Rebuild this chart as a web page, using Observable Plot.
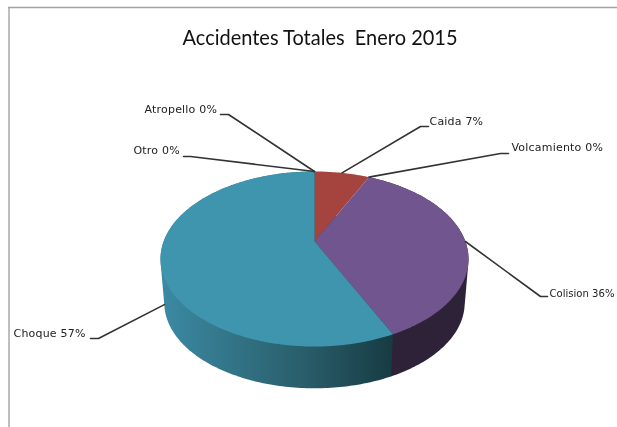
<!DOCTYPE html>
<html>
<head>
<meta charset="utf-8">
<script src="https://cdn.jsdelivr.net/npm/d3@7"></script>
<script src="https://cdn.jsdelivr.net/npm/@observablehq/plot@0.6"></script>
<style>
html,body{margin:0;padding:0;background:#fff;overflow:hidden}
svg{display:block;filter:blur(0.5px)}
</style>
</head>
<body>
<div id="chart"></div>
<script>
// Data
const categories = ["Caida", "Volcamiento", "Colision", "Choque", "Otro", "Atropello"];
const percents = [7, 0, 36, 57, 0, 0];
const chartTitle = "Accidentes Totales  Enero 2015";

// Layout of the tilted pie and of its labels (pixels of the plot frame)
const W = 617, H = 427;
const apex = {x: 314, y: 241}, k = 150.9, persp = -0.2, squash = 35.8;
const center = {x: 314, y: 258.5}, depth = 44, shrink = 0.975;
const labelLayout = {
  Caida:       {tx: 429, ty: 121, ex: 420, ey: 126, hx: 428},
  Volcamiento: {tx: 511, ty: 147, ex: 500, ey: 153, hx: 508},
  Colision:    {tx: 549, ty: 293, ex: 540, ey: 296, hx: 547},
  Choque:      {tx: 13,  ty: 333, ex: 98,  ey: 338, hx: 90, base: true},
  Otro:        {tx: 133, ty: 150, ex: 190, ey: 156, hx: 183},
  Atropello:   {tx: 144, ty: 109, ex: 228, ey: 114, hx: 220}
};
const colors = {Caida: "#a5443f", Colision: "#71558f", Choque: "#3f95ae"};
const sideFill = {Colision: "#2e2239", Choque: "url(#choqueSide)"};

// Tilted rim: unit-circle angle to screen by a perspective mapping
const rim = a => {
  const X = Math.sin(a), Y = -Math.cos(a), d = 1 + persp * Y;
  return {x: apex.x + k * X / d, y: (squash * Y + apex.y) / d};
};
const under = p => ({
  x: center.x + shrink * (p.x - center.x),
  y: center.y + shrink * (p.y - center.y) + depth
});
const table = categories.map((name, i) => ({name, value: percents[i]}));
const arcs = d3.pie().sort(null).value(d => d.value)(table);
const arcPoints = (a0, a1) => {
  const n = Math.max(2, Math.ceil((a1 - a0) * 60));
  return d3.range(n + 1).map(i => rim(a0 + (a1 - a0) * i / n));
};

const sideMarks = [], topMarks = [], leaders = [], texts = [];
for (const s of arcs) {
  const name = s.data.name;
  if (s.data.value > 0) {
    const pts = arcPoints(s.startAngle, s.endAngle);
    if (sideFill[name]) {
      // the wall is the hull of both rims; the top faces cover its rear part
      const hull = d3.polygonHull([...pts, ...pts.map(under)].map(p => [p.x, p.y]));
      sideMarks.push(Plot.line(hull, {x: "0", y: "1", curve: "linear-closed", fill: sideFill[name], stroke: "none"}));
    }
    topMarks.push(Plot.line([apex, ...pts], {x: "x", y: "y", curve: "linear-closed", fill: colors[name], stroke: "none"}));
  }
  const l = labelLayout[name];
  const mid = rim((s.startAngle + s.endAngle) / 2);
  const start = l.base ? under(mid) : mid;
  leaders.push(Plot.line([start, {x: l.ex, y: l.ey}, {x: l.hx, y: l.ey}], {x: "x", y: "y", stroke: "#333", strokeWidth: 1.6}));
  texts.push({label: `${name} ${s.data.value}%`, x: l.tx, y: l.ty});
}

const frameColor = "#a3a3a3";
const plot = Plot.plot({
  width: W, height: H,
  margin: 0,
  x: {domain: [0, W], range: [0, W], axis: null},
  y: {domain: [0, H], range: [0, H], axis: null},
  marks: [
    Plot.ruleX([8.5], {stroke: frameColor, strokeWidth: 1.4, y1: 7, y2: H}),
    Plot.ruleY([7], {stroke: frameColor, strokeWidth: 1.4, x1: 8, x2: W}),
    ...sideMarks,
    ...topMarks,
    ...leaders,
    Plot.text(texts, {x: "x", y: "y", text: "label", textAnchor: "start", fontSize: 11, fill: "#222", fontFamily: "DejaVu Sans", className: "pie-label"}),
    Plot.text([chartTitle], {x: [319.5], y: [37], text: d => d, textAnchor: "middle", fontSize: 22, fill: "#111", fontFamily: "Lato", className: "pie-title"})
  ]
});
plot.style.background = "#fff";
d3.select(plot).selectAll(".pie-label text").style("letter-spacing", "0.2px")
  .filter(function() { return this.textContent.startsWith("Colision"); })
  .style("letter-spacing", "0").attr("font-size", 10).attr("textLength", 65).attr("lengthAdjust", "spacingAndGlyphs");
d3.select(plot).selectAll(".pie-title text").attr("textLength", 275).attr("lengthAdjust", "spacingAndGlyphs");
const defs = d3.select(plot).append("defs");
const g = defs.append("linearGradient").attr("id", "choqueSide").attr("gradientUnits", "userSpaceOnUse")
  .attr("x1", 160).attr("x2", 392).attr("y1", 0).attr("y2", 0);
g.append("stop").attr("offset", 0).attr("stop-color", "#3b8aa4");
g.append("stop").attr("offset", 0.6).attr("stop-color", "#2a5f6c");
g.append("stop").attr("offset", 1).attr("stop-color", "#173b43");
document.getElementById("chart").append(plot);
</script>
</body>
</html>
